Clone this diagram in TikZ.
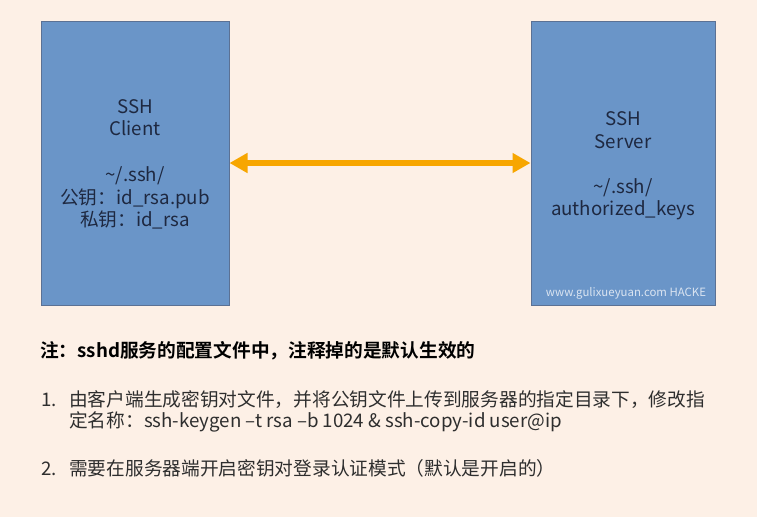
\documentclass[tikz,border=0pt]{standalone}
\usepackage{fontspec}
\setmainfont{Noto Sans CJK SC}[BoldFont={Noto Sans CJK SC Bold}]
\usetikzlibrary{arrows.meta}
\definecolor{bg}{HTML}{FDF0E6}
\definecolor{boxfill}{HTML}{6A95C8}
\definecolor{boxline}{HTML}{5B7194}
\definecolor{boxtext}{HTML}{1E2840}
\definecolor{arrowc}{HTML}{F7A600}
\definecolor{bodytext}{HTML}{2E2E2E}
\XeTeXinterchartoks 1 1 = {\hskip 0pt plus 1fil\relax}
\XeTeXinterchartoks 1 3 = {\hskip 0pt plus 1fil\relax}
\XeTeXinterchartoks 3 1 = {\hskip 0pt plus 1fil\relax}
\tikzset{
  hostbox/.style={draw=boxline, line width=0.8pt, fill=boxfill},
  boxlabel/.style={anchor=base, inner sep=0pt, text=boxtext, font=\fontsize{18.7}{22.5}\selectfont},
  linkarrow/.style={draw=arrowc, line width=6pt, {Triangle[length=18pt,width=19pt]}-{Triangle[length=18pt,width=19pt]}},
  bodyline/.style={anchor=base west, inner sep=0pt, text=bodytext, font=\fontsize{18.7}{22}\selectfont},
  headline/.style={anchor=base west, inner sep=0pt, text=black, font=\bfseries\fontsize{18.7}{22}\selectfont},
  watermark/.style={text=white!75!boxfill, font=\fontsize{11.4}{13}\selectfont, inner sep=0pt}
}
\begin{document}
\begin{tikzpicture}[x=1pt,y=-1pt]
\fill[bg] (0,0) rectangle (757,517);
\useasboundingbox (0,0) rectangle (757,517);
\draw[hostbox] (41.5,21.5) rectangle (229,305.5);
\draw[hostbox] (531.5,21.5) rectangle (715,305.5);
\coordinate (cl) at (229.5,163);
\coordinate (sv) at (530.5,163);
% client labels
\node[boxlabel] (c1) at (135,113) {SSH};
\node[boxlabel] (c2) at (135,135.5) {Client};
\node[boxlabel] (c3) at (135,181.5) {\textasciitilde/.ssh/};
\node[boxlabel] (c4) at (135,204) {公钥：id\_rsa.pub};
\node[boxlabel] (c5) at (135,226.5) {私钥：id\_rsa};
% server labels
\node[boxlabel] (s1) at (623,125) {SSH};
\node[boxlabel] (s2) at (623,148) {Server};
\node[boxlabel] (s3) at (623,193) {\textasciitilde/.ssh/};
\node[boxlabel] (s4) at (623,215.5) {authorized\_keys};
\node[watermark] (wm) at (626,293) {www.gulixueyuan.com HACKE};
\draw[linkarrow] (cl) -- (sv);
\node[headline] (note) at (40,357) {注：sshd服务的配置文件中，注释掉的是默认生效的};
\node[bodyline] (n1) at (41,406) {1.};
\node[bodyline] (i1a) at (69,406) {\XeTeXinterchartokenstate=1 \hbox to 647pt{由客户端生成密钥对文件，并将公钥文件上传到服务器的指定目录下，修改指}};
\node[bodyline] (i1b) at (69,427) {定名称：ssh-keygen –t rsa –b 1024 \& ssh-copy-id user@ip};
\node[bodyline] (n2) at (41,475) {2.};
\node[bodyline] (i2) at (69,475) {需要在服务器端开启密钥对登录认证模式（默认是开启的）};
\end{tikzpicture}
\end{document}
